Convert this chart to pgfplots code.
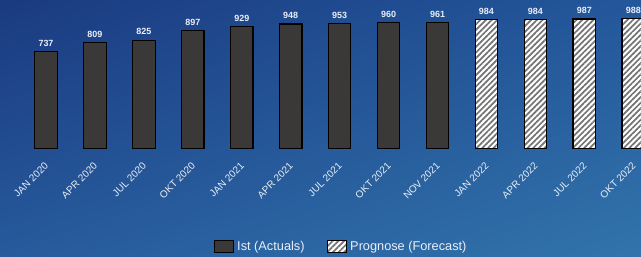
\documentclass[border=0pt]{standalone}
\usepackage{pgfplots}
\pgfplotsset{compat=1.18}
\usepackage{fontspec}
\setmainfont{Liberation Sans}
\usetikzlibrary{patterns.meta,shadings}
\definecolor{bgUL}{HTML}{1B3A80}
\definecolor{bgUR}{HTML}{23579B}
\definecolor{bgLL}{HTML}{265A9C}
\definecolor{bgLR}{HTML}{3274AB}
\definecolor{labelc}{HTML}{E9EEF7}
\definecolor{barc}{HTML}{3B3937}
\pgfplotsset{
  boxlegend/.style={legend image code/.code={\draw[##1] (0bp,-6bp) rectangle (19bp,6bp);}},
}
\begin{document}
\begin{tikzpicture}
\shade[upper left=bgUL, upper right=bgUR, lower left=bgLL, lower right=bgLR] (0bp,0bp) rectangle (641bp,257bp);
\useasboundingbox (0bp,0bp) rectangle (641bp,257bp);
\begin{axis}[
  at={(0bp,108.7bp)}, anchor=south west,
  scale only axis, width=641bp, height=131.1bp,
  xmin=-0.94, xmax=12.158, ymin=0, ymax=1000,
  ybar, bar width=0.46, bar shift=0pt,
  axis line style={draw=none}, ytick=\empty,
  /pgf/number format/assume math mode=true,
  xtick={0,...,12},
  xticklabels={JAN 2020, APR 2020, JUL 2020, OKT 2020, JAN 2021, APR 2021, JUL 2021, OKT 2021, NOV 2021, JAN 2022, APR 2022, JUL 2022, OKT 2022},
  major tick length=0pt,
  xticklabel style={xshift=-2bp, yshift=-13.5bp, rotate=45, anchor=north east, text=labelc, font=\fontsize{10}{12}\selectfont, inner sep=0pt},
  nodes near coords={\pgfmathprintnumber[assume math mode=true]{\pgfplotspointmeta}},
  nodes near coords style={font=\bfseries\fontsize{9}{10}\selectfont, text=labelc, anchor=south, inner sep=0pt, yshift=4.5bp},
  legend columns=2,
  legend style={at={(rel axis cs:0.532,-0.75)}, anchor=center, draw=none, fill=none,
    font=\fontsize{12.8}{14}\selectfont, text=labelc,
    /tikz/every even column/.append style={column sep=20bp},
    /tikz/every odd column/.append style={column sep=1.5bp}},
  boxlegend,
]
\addplot[boxlegend, fill=barc, draw=black, line width=1.2bp] coordinates {
(0,737) (1,809) (2,825) (3,897) (4,929) (5,948) (6,953) (7,960) (8,961)};
\addlegendentry{Ist (Actuals)}
\addplot[boxlegend, fill=white, draw=black, line width=1.2bp,
  postaction={pattern={Lines[angle=45,distance=4bp,line width=1.7bp]}, pattern color=black!55}] coordinates {
(9,984) (10,984) (11,987) (12,988)};
\addlegendentry{Prognose (Forecast)}
\end{axis}
\end{tikzpicture}
\end{document}
